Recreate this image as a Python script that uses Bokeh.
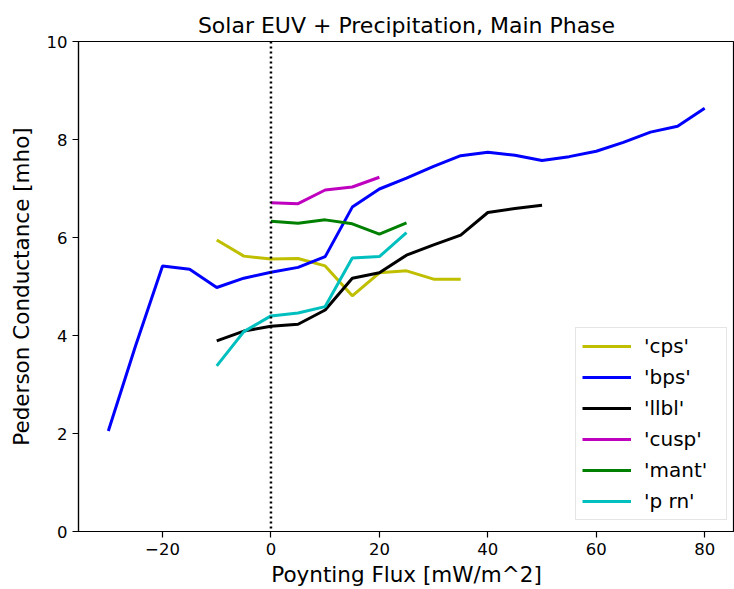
from bokeh.plotting import figure
from bokeh.models import Range1d, Span, Legend, LegendItem, FixedTicker, CustomJSTickFormatter
from bokeh.embed import file_html
from bokeh.resources import INLINE

# Poynting flux bins [mW/m^2] and Pedersen conductance [mho] per region
x_cps = [-10, -5, 0, 5, 10, 15, 20, 25, 30, 35]
cps = [5.95, 5.62, 5.56, 5.57, 5.42, 4.81, 5.28, 5.32, 5.15, 5.15]

x_bps = [-30, -25, -20, -15, -10, -5, 0, 5, 10, 15, 20, 25, 30, 35, 40,
         45, 50, 55, 60, 65, 70, 75, 80]
bps = [2.05, 3.78, 5.42, 5.35, 4.98, 5.17, 5.29, 5.39, 5.61, 6.62, 6.99, 7.21,
       7.45, 7.67, 7.74, 7.68, 7.57, 7.65, 7.76, 7.94, 8.15, 8.27, 8.64]

x_llbl = [-10, -5, 0, 5, 10, 15, 20, 25, 30, 35, 40, 45, 50]
llbl = [3.89, 4.09, 4.19, 4.23, 4.52, 5.17, 5.28, 5.64, 5.85, 6.05, 6.51, 6.59, 6.66]

x_cusp = [0, 5, 10, 15, 20]
cusp = [6.71, 6.69, 6.97, 7.03, 7.23]

x_mant = [0, 5, 10, 15, 20, 25]
mant = [6.33, 6.29, 6.36, 6.28, 6.07, 6.30]

x_prn = [-10, -5, 0, 5, 10, 15, 20, 25]
prn = [3.38, 4.08, 4.40, 4.46, 4.59, 5.58, 5.61, 6.10]

series = [
    ("'cps'", x_cps, cps, "#bfbf00"),
    ("'bps'", x_bps, bps, "#0000ff"),
    ("'llbl'", x_llbl, llbl, "#000000"),
    ("'cusp'", x_cusp, cusp, "#bf00bf"),
    ("'mant'", x_mant, mant, "#008000"),
    ("'p rn'", x_prn, prn, "#00bfbf"),
]

x_ticks = [-20, 0, 20, 40, 60, 80]
y_ticks = [0, 2, 4, 6, 8, 10]

FONT = "DejaVu Sans"

p = figure(width=734, height=589, output_backend="svg", toolbar_location=None,
           x_range=Range1d(-35.5, 85.5), y_range=Range1d(0, 10),
           min_border_left=78, min_border_right=0, min_border_top=41,
           min_border_bottom=58)

p.title.text = "Solar EUV + Precipitation, Main Phase"
p.title.align = "center"
p.title.text_font = FONT
p.title.text_font_size = "22px"
p.title.text_font_style = "normal"
p.title.text_color = "#000000"
p.title.standoff = 8

p.grid.visible = False
p.outline_line_color = "#000000"
p.outline_line_width = 1.2
p.background_fill_color = "#ffffff"
p.border_fill_color = "#ffffff"

minus_fmt = CustomJSTickFormatter(
    code="return tick < 0 ? '\\u2212' + Math.abs(tick) : tick.toString();")

for ax in (p.xaxis[0], p.yaxis[0]):
    ax.axis_line_color = "#000000"
    ax.axis_line_width = 1.2
    ax.major_tick_line_color = "#000000"
    ax.major_tick_line_width = 1.2
    ax.major_tick_out = 6
    ax.major_tick_in = 0
    ax.minor_tick_line_color = None
    ax.major_label_text_font = FONT
    ax.major_label_text_font_size = "16.5px"
    ax.major_label_text_color = "#000000"
    ax.major_label_standoff = 5
    ax.axis_label_text_font = FONT
    ax.axis_label_text_font_size = "21.5px"
    ax.axis_label_text_font_style = "normal"
    ax.axis_label_text_color = "#000000"

p.xaxis[0].ticker = FixedTicker(ticks=x_ticks)
p.xaxis[0].formatter = minus_fmt
p.xaxis[0].axis_label = "Poynting Flux [mW/m^2]"
p.xaxis[0].axis_label_standoff = 4
p.yaxis[0].ticker = FixedTicker(ticks=y_ticks)
p.yaxis[0].axis_label = "Pederson Conductance [mho]"
p.yaxis[0].axis_label_standoff = 10

# zero-flux reference line
p.add_layout(Span(location=0, dimension="height", line_color="#000000",
                  line_width=2.5, line_dash="2 3"))

items = []
for name, xs, ys, color in series:
    r = p.line(xs, ys, line_color=color, line_width=3)
    items.append(LegendItem(label=name, renderers=[r]))

# legend anchored in screen units from the frame's lower-left corner
legend = Legend(items=items, location=(497, 11),
                label_text_font=FONT, label_text_font_size="20px",
                label_text_color="#000000",
                glyph_width=49, glyph_height=20, label_height=20,
                label_width=76, label_standoff=13, spacing=7, padding=6,
                margin=0,
                border_line_color="#cccccc", border_line_width=1,
                background_fill_color="#ffffff", background_fill_alpha=0.8)
p.add_layout(legend)

open("out.html", "w").write(file_html(p, INLINE))
